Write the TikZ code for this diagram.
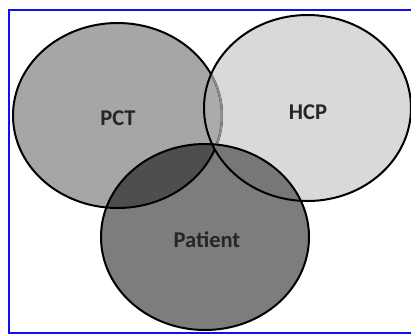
\documentclass[tikz,border=0pt]{standalone}
\usepackage{fontspec}
\setmainfont{Carlito}
\usepackage{xcolor}
\definecolor{pctgray}{HTML}{A6A6A6}
\definecolor{hcpgray}{HTML}{D9D9D9}
\definecolor{patgray}{HTML}{7D7D7D}
\definecolor{lensgray}{HTML}{ABABAB}
\definecolor{darkgray}{HTML}{4E4E4E}
\definecolor{midgray}{HTML}{777777}
\definecolor{frameblue}{HTML}{1010F0}

\def\pctpath{(117.5,115.5) ellipse [x radius=104.5, y radius=92.5]}
\def\hcppath{(307.5,108) ellipse [x radius=103.5, y radius=93]}
\def\patpath{(205,237) ellipse [x radius=104, y radius=93]}

\begin{document}
\begin{tikzpicture}[
  x=1pt, y=-1pt,
  outline/.style={draw=black, line width=2pt},
  label/.style={font=\fontsize{22.5}{26}\selectfont\bfseries, text=black!85}
]
  \useasboundingbox (0,0) rectangle (411,335);
  \fill[white] (0,0) rectangle (411,335);
  \draw[frameblue, line width=2pt] (411,10) -- (9,10) -- (9,333) -- (411,333);

  \fill[pctgray] \pctpath;
  \fill[hcpgray] \hcppath;
  \fill[patgray] \patpath;
  \begin{scope}
    \clip \pctpath;
    \fill[lensgray] \hcppath;
  \end{scope}
  \begin{scope}
    \clip \patpath;
    \fill[darkgray] \pctpath;
    \fill[midgray] \hcppath;
  \end{scope}

  \draw[outline] \pctpath;
  \begin{scope}
    \clip \hcppath;
    \draw[line width=2pt, black!45] \pctpath;
  \end{scope}
  \draw[outline] \hcppath;
  \draw[outline] \patpath;

  \node[label] (pct) at (118,118) {PCT};
  \node[label] (hcp) at (308,112) {HCP};
  \node[label] (patient) at (207,240) {Patient};
\end{tikzpicture}
\end{document}
